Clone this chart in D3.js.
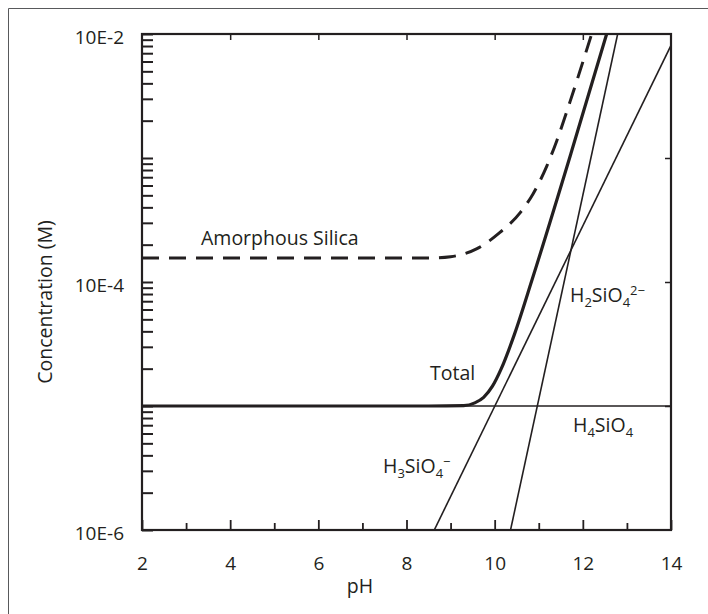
<!DOCTYPE html>
<html>
<head>
<meta charset="utf-8">
<script src="https://cdn.jsdelivr.net/npm/d3@7"></script>
<style>
  body { margin: 0; background: #fff; }
  text { font-family: "Open Sans", sans-serif; fill: #231f20; }
</style>
</head>
<body>
<svg width="708" height="614"></svg>
<script>
// values (pH, concentration in M)
const h4PH = [2, 14];
const h4Conc = [1e-5, 1e-5];

const h3PH = [8.63, 14];
const h3Conc = [1e-6, 8.1e-3];

const h2PH = [10.36, 12.79];
const h2Conc = [1e-6, 1e-2];

const totalPH = [2, 8.5, 9.3, 9.55, 9.75, 9.95, 10.15, 10.45, 10.85, 11.75, 12.54];
const totalConc = [1e-5, 1e-5, 1.007e-5, 1.06e-5, 1.175e-5, 1.445e-5, 2.0e-5, 3.8e-5, 1.047e-4, 1.148e-3, 1e-2];

const silicaPH = [2, 8.5, 9.0, 9.6, 10.12, 10.58, 10.87, 11.18, 11.41, 11.71, 12.2];
const silicaConc = [1.56e-4, 1.56e-4, 1.6e-4, 1.86e-4, 2.51e-4, 3.63e-4, 5.13e-4, 8.57e-4, 1.38e-3, 2.85e-3, 1e-2];

const xLabels = [2, 4, 6, 8, 10, 12, 14];
const yLabels = { "1e-2": "10E-2", "1e-4": "10E-4", "1e-6": "10E-6" };

const svg = d3.select("svg");
const ink = "#231f20";

// outer frame of the figure (only top and left are inside the picture)
svg.append("path")
  .attr("d", "M8.5,614 V8.5 H708")
  .attr("fill", "none")
  .attr("stroke", "#58595b")
  .attr("stroke-width", 1);

const mLeft = 142, mRight = 671, mTop = 34, mBottom = 530;

const x = d3.scaleLinear().domain([2, 14]).range([mLeft, mRight]);
const y = d3.scaleLog().domain([1e-6, 1e-2]).range([mBottom, mTop]);

// left axis: every log tick pointing inward
const yAxis = d3.axisLeft(y)
  .tickSize(-11)
  .tickPadding(18)
  .tickFormat(d => {
    const k = d.toExponential(0);
    return yLabels[k] || "";
  });

const gy = svg.append("g").attr("transform", `translate(${mLeft},0)`).call(yAxis);
gy.select(".domain").remove();
gy.selectAll("line").attr("stroke", ink).attr("stroke-width", 2);
gy.selectAll("text").style("font-size", "19px").attr("dy", "0.5em");

// bottom axis: every pH unit, long ticks at even
const xAxis = d3.axisBottom(x)
  .tickValues(d3.range(2, 15))
  .tickSize(-10)
  .tickPadding(27)
  .tickFormat(d => xLabels.includes(d) ? d : "");

const gx = svg.append("g").attr("transform", `translate(0,${mBottom})`).call(xAxis);
gx.select(".domain").remove();
gx.selectAll("line")
  .attr("stroke", ink).attr("stroke-width", 1.8)
  .attr("y2", d => d % 2 ? -7 : -10);
gx.selectAll("text").style("font-size", "19px");

// top axis
const gt = svg.append("g").attr("transform", `translate(0,${mTop})`)
  .call(d3.axisTop(x).tickValues([4, 6, 8, 10, 12]).tickSize(-6).tickFormat(""));
gt.select(".domain").remove();
gt.selectAll("line").attr("stroke", ink).attr("stroke-width", 1.5);

// right axis
const gr = svg.append("g").attr("transform", `translate(${mRight},0)`)
  .call(d3.axisRight(y).tickValues([1e-3, 1e-4, 1e-5]).tickSize(-6).tickFormat(""));
gr.select(".domain").remove();
gr.selectAll("line").attr("stroke", ink).attr("stroke-width", 1.5);

svg.append("clipPath").attr("id", "plot")
  .append("rect")
  .attr("x", mLeft).attr("y", mTop)
  .attr("width", mRight - mLeft).attr("height", mBottom - mTop);

const plot = svg.append("g").attr("clip-path", "url(#plot)");

const straight = d3.line().x(d => x(d[0])).y(d => y(d[1]));
const smooth = d3.line().x(d => x(d[0])).y(d => y(d[1])).curve(d3.curveMonotoneX);

const pairs = (a, b) => a.map((v, i) => [v, b[i]]);

plot.append("path").datum(pairs(h4PH, h4Conc))
  .attr("d", straight).attr("fill", "none").attr("stroke", ink).attr("stroke-width", 1.6);
plot.append("path").datum(pairs(h3PH, h3Conc))
  .attr("d", straight).attr("fill", "none").attr("stroke", ink).attr("stroke-width", 1.6);
plot.append("path").datum(pairs(h2PH, h2Conc))
  .attr("d", straight).attr("fill", "none").attr("stroke", ink).attr("stroke-width", 1.6);
plot.append("path").datum(pairs(totalPH, totalConc))
  .attr("d", smooth).attr("fill", "none").attr("stroke", ink).attr("stroke-width", 3.2);
plot.append("path").datum(pairs(silicaPH, silicaConc))
  .attr("d", smooth).attr("fill", "none").attr("stroke", ink)
  .attr("stroke-width", 3).attr("stroke-dasharray", "17,10");

// frame of the plot
svg.append("rect")
  .attr("x", mLeft).attr("y", mTop)
  .attr("width", mRight - mLeft).attr("height", mBottom - mTop)
  .attr("fill", "none").attr("stroke", ink).attr("stroke-width", 2.2);

// labels
svg.append("text").attr("x", 201).attr("y", 245).style("font-size", "19.5px").text("Amorphous Silica");
svg.append("text").attr("x", 430).attr("y", 380).style("font-size", "19.5px").text("Total");

function chem(xp, yp, parts) {
  const t = svg.append("text").attr("x", xp).attr("y", yp).style("font-size", "19.5px");
  parts.forEach(p => {
    const s = t.append("tspan").text(p[0]);
    if (p[1] === "sub") s.style("font-size", "13px").attr("dy", 5);
    else if (p[1] === "sup") s.style("font-size", "13px").attr("dy", -12);
    else if (p[1] === "back") s.attr("dy", -5);
  });
}

chem(570, 302, [["H"], ["2", "sub"], ["SiO", "back"], ["4", "sub"], ["2\u2212", "sup"]]);
chem(573, 432, [["H"], ["4", "sub"], ["SiO", "back"], ["4", "sub"]]);
chem(383, 473, [["H"], ["3", "sub"], ["SiO", "back"], ["4", "sub"], ["\u2212", "sup"]]);

// axis titles
svg.append("text")
  .attr("x", 360).attr("y", 593)
  .attr("text-anchor", "middle")
  .style("font-size", "19.5px")
  .text("pH");

svg.append("text")
  .attr("transform", "translate(52,302) rotate(-90)")
  .attr("text-anchor", "middle")
  .style("font-size", "19.5px")
  .text("Concentration (M)");
</script>
</body>
</html>
